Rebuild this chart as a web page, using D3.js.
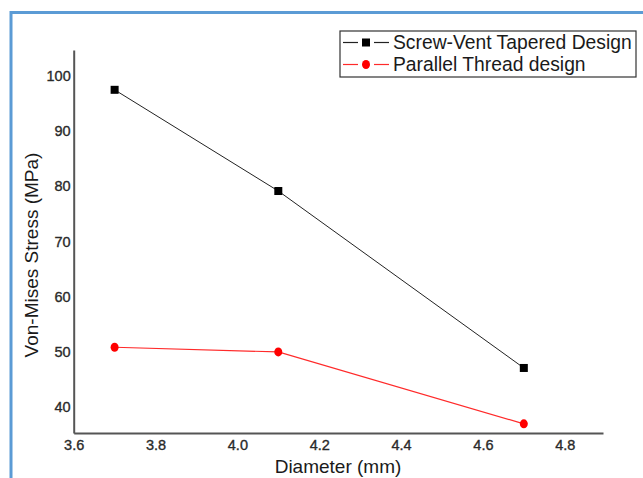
<!DOCTYPE html>
<html><head><meta charset="utf-8">
<script src="https://cdn.jsdelivr.net/npm/d3@7"></script>
<style>html,body{margin:0;padding:0;background:#fff;}svg{display:block;font-family:"Liberation Sans",Arial,sans-serif;}</style>
</head><body>
<svg id="c" width="643" height="478"></svg>
<script>
const diameters = [3.7, 4.1, 4.7];
const screwVent = [97.3, 79.0, 47.0];
const parallelThread = [50.75, 49.9, 36.9];
const seriesNames = ["Screw-Vent Tapered Design", "Parallel Thread design"];
const xTicks = [3.6, 3.8, 4.0, 4.2, 4.4, 4.6, 4.8];
const yTicks = [40, 50, 60, 70, 80, 90, 100];

const svg = d3.select("#c");
// blue frame
svg.append("path").attr("d","M11,478 V12.5 H643").attr("fill","none").attr("stroke","#5b9bd5").attr("stroke-width",3);

const x = d3.scaleLinear().domain([3.6, 4.8935]).range([73.7, 603]);
const y = d3.scaleLinear().domain([35.24, 104.5]).range([433, 50]);

const xAxis = svg.append("g").attr("transform","translate(0,433)")
  .call(d3.axisBottom(x).tickValues(xTicks).tickFormat(d3.format(".1f")).tickSize(0).tickPadding(7));
const yAxis = svg.append("g").attr("transform","translate(73.7,0)")
  .call(d3.axisLeft(y).tickValues(yTicks).tickSize(0).tickPadding(3));
[xAxis,yAxis].forEach(a=>{
  a.select(".domain").attr("stroke","#555").attr("stroke-width",2);
  a.selectAll("text").attr("font-size",14.5).attr("fill","#2a2a2a").attr("stroke","#2a2a2a").attr("stroke-width",0.35)
    .attr("font-family","Liberation Sans, Arial, sans-serif");
});
yAxis.selectAll("text").attr("dy","0.36em");

svg.append("text").attr("x",338).attr("y",473).attr("text-anchor","middle").attr("font-size",19).attr("fill","#1a1a1a").text("Diameter (mm)");
svg.append("text").attr("transform","translate(38,255) rotate(-90)").attr("text-anchor","middle").attr("font-size",19).attr("fill","#1a1a1a").text("Von-Mises Stress (MPa)");

const line = d3.line().x(d=>x(d[0])).y(d=>y(d[1]));
const blackData = diameters.map((d,i)=>[d,screwVent[i]]);
const redData = diameters.map((d,i)=>[d,parallelThread[i]]);

svg.append("path").datum(blackData).attr("d",line).attr("fill","none").attr("stroke","#222").attr("stroke-width",1);
svg.append("path").datum(redData).attr("d",line).attr("fill","none").attr("stroke","#ff2a2a").attr("stroke-width",1.2);

svg.selectAll(".sq").data(blackData).enter().append("rect")
  .attr("x",d=>x(d[0])-4).attr("y",d=>y(d[1])-4).attr("width",8).attr("height",8).attr("fill","#000");
svg.selectAll(".ci").data(redData).enter().append("ellipse")
  .attr("cx",d=>x(d[0])).attr("cy",d=>y(d[1])).attr("rx",4).attr("ry",4.5).attr("fill","#ff0000");

// legend
const lg = svg.append("g");
lg.append("rect").attr("x",340).attr("y",31).attr("width",296).attr("height",46).attr("fill","#fff").attr("stroke","#333").attr("stroke-width",1.2);
const rows = [{y:42.5,c:"#222",m:"sq"},{y:64.5,c:"#ff2a2a",m:"ci"}];
rows.forEach((r,i)=>{
  lg.append("line").attr("x1",343).attr("x2",358).attr("y1",r.y).attr("y2",r.y).attr("stroke",r.c).attr("stroke-width",1.2);
  lg.append("line").attr("x1",374).attr("x2",389).attr("y1",r.y).attr("y2",r.y).attr("stroke",r.c).attr("stroke-width",1.2);
  if(r.m==="sq") lg.append("rect").attr("x",362).attr("y",r.y-4).attr("width",8).attr("height",8).attr("fill","#000");
  else lg.append("ellipse").attr("cx",366).attr("cy",r.y).attr("rx",4).attr("ry",4.5).attr("fill","#ff0000");
  lg.append("text").attr("x",393).attr("y",r.y).attr("dy","0.35em").attr("font-size",19.3).attr("fill","#1a1a1a").text(seriesNames[i]);
});
</script>
</body></html>
